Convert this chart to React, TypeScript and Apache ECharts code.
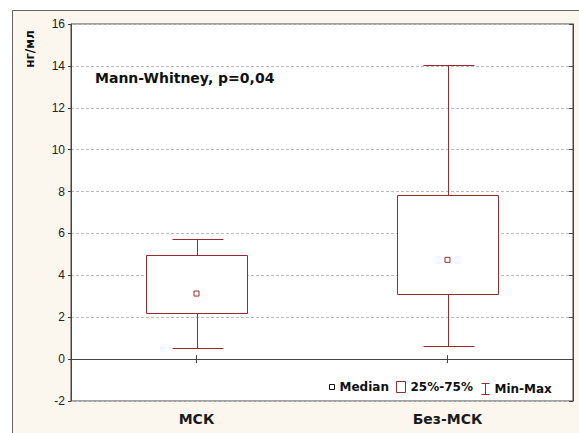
import React, { useEffect, useRef } from "react";
import * as echarts from "echarts";

const categories = ["МСК", "Без-МСК"];
const minValues = [0.52, 0.61];
const q1Values = [2.22, 3.11];
const medianValues = [3.13, 4.74];
const q3Values = [4.95, 7.82];
const maxValues = [5.72, 14.02];
const yMin = -2;
const yMax = 16;
const yInterval = 2;
const annotation = "Mann-Whitney, p=0,04";
const yName = "нг/мл";
const legendNames = ["Median", "25%-75%", "Min-Max"];

const RED = "#9a2a32";
const AXIS = "#444";
const BOLD = '"DejaVu Sans", sans-serif';
const CREAM = "#fcf7ee";

export default function App() {
  const ref = useRef<HTMLDivElement>(null);
  useEffect(() => {
    document.body.style.margin = "0";
    if (!ref.current) return;
    const chart = echarts.init(ref.current, null, { renderer: "svg" });

    const renderBox = (_p: any, api: any) => {
      const i = api.value(0);
      const lo = api.coord([i, api.value(1)]);
      const hi = api.coord([i, api.value(2)]);
      const band = api.size([1, 0])[0];
      const w = band * 0.4;
      const x0 = Math.round(lo[0] - w / 2) + 0.5;
      const x1 = Math.round(lo[0] + w / 2) + 0.5;
      const yTop = Math.round(hi[1]) + 0.5;
      const yBot = Math.round(lo[1]) + 0.5;
      return {
        type: "rect",
        shape: { x: x0, y: yTop, width: x1 - x0, height: yBot - yTop },
        style: { fill: "#fff", stroke: RED, lineWidth: 1 },
      };
    };

    const renderWhisker = (_p: any, api: any) => {
      const i = api.value(0);
      const pMin = api.coord([i, api.value(1)]);
      const pQ1 = api.coord([i, api.value(2)]);
      const pQ3 = api.coord([i, api.value(3)]);
      const pMax = api.coord([i, api.value(4)]);
      const band = api.size([1, 0])[0];
      const cw = band * 0.2;
      const cx = Math.round(pMin[0]) + 0.5;
      const r = (v: number) => Math.round(v) + 0.5;
      const st = { stroke: RED, lineWidth: 1 };
      return {
        type: "group",
        children: [
          { type: "line", shape: { x1: cx, y1: r(pQ3[1]), x2: cx, y2: r(pMax[1]) }, style: st },
          { type: "line", shape: { x1: r(cx - cw / 2), y1: r(pMax[1]), x2: r(cx + cw / 2), y2: r(pMax[1]) }, style: st },
          { type: "line", shape: { x1: cx, y1: r(pQ1[1]), x2: cx, y2: r(pMin[1]) }, style: st },
          { type: "line", shape: { x1: r(cx - cw / 2), y1: r(pMin[1]), x2: r(cx + cw / 2), y2: r(pMin[1]) }, style: st },
        ],
      };
    };

    const legendText = { fontFamily: BOLD, fontWeight: "bold", fontSize: 12, color: "#111" };

    chart.setOption({
      animation: false,
      backgroundColor: CREAM,
      grid: {
        left: 71,
        top: 24,
        right: 6,
        bottom: 32,
        show: true,
        backgroundColor: "#fff",
        borderColor: AXIS,
        borderWidth: 1,
      },
      xAxis: [
        {
          type: "category",
          data: categories,
          position: "bottom",
          axisLine: { show: true, lineStyle: { color: AXIS } },
          axisTick: { show: true, inside: true, alignWithLabel: true, length: 4, lineStyle: { color: AXIS } },
          axisLabel: { fontFamily: BOLD, fontWeight: "bold", fontSize: 14, color: "#1a1a1a", margin: 11 },
          splitLine: { show: false },
        },
        {
          type: "category",
          data: categories,
          position: "top",
          axisLine: { show: true, lineStyle: { color: AXIS } },
          axisTick: { show: true, inside: true, alignWithLabel: true, length: 4, lineStyle: { color: AXIS } },
          axisLabel: { show: false },
          splitLine: { show: false },
        },
      ],
      yAxis: [
        {
          type: "value",
          min: yMin,
          max: yMax,
          interval: yInterval,
          position: "left",
          axisLine: { show: true, lineStyle: { color: AXIS } },
          axisTick: { show: true, inside: false, length: 3, lineStyle: { color: AXIS } },
          axisLabel: { fontFamily: '"Liberation Sans", Arial, sans-serif', fontSize: 12, color: "#222", margin: 6 },
          splitLine: { show: true, lineStyle: { color: "#bdbdbd", type: [3, 2], width: 1 } },
        },
        {
          type: "value",
          min: yMin,
          max: yMax,
          interval: yInterval,
          position: "right",
          axisLine: { show: true, lineStyle: { color: AXIS } },
          axisTick: { show: true, inside: true, length: 4, lineStyle: { color: AXIS } },
          axisLabel: { show: false },
          splitLine: { show: false },
        },
      ],
      legend: [
        {
          data: [{ name: legendNames[0], icon: "rect", itemStyle: { color: "#fff", borderColor: "#111", borderWidth: 1 } }],
          left: 329,
          top: 381,
          padding: 0,
          itemWidth: 5,
          itemHeight: 5,
          selectedMode: false,
          textStyle: legendText,
        },
        {
          data: [{ name: legendNames[1], icon: "rect", itemStyle: { color: "#fff", borderColor: RED, borderWidth: 1 } }],
          left: 396,
          top: 381,
          padding: 0,
          itemWidth: 9,
          itemHeight: 11,
          selectedMode: false,
          textStyle: legendText,
        },
        {
          data: [
            {
              name: legendNames[2],
              icon: "path://M0,0H8M4,0V11M0,11H8",
              itemStyle: { color: "none", borderColor: RED, borderWidth: 1 },
            },
          ],
          left: 479,
          top: 381,
          padding: 0,
          itemWidth: 8,
          itemHeight: 11,
          selectedMode: false,
          textStyle: legendText,
        },
      ],
      graphic: [
        { type: "rect", silent: true, shape: { x: 0, y: 0, width: 12, height: 433 }, style: { fill: "#fff" } },
        { type: "rect", silent: true, shape: { x: 0, y: 0, width: 579, height: 10 }, style: { fill: "#fff" } },
        { type: "line", silent: true, shape: { x1: 12.5, y1: 10, x2: 12.5, y2: 433 }, style: { stroke: "#666", lineWidth: 1 } },
        { type: "line", silent: true, shape: { x1: 12, y1: 10.5, x2: 579, y2: 10.5 }, style: { stroke: "#666", lineWidth: 1 } },
        {
          type: "text",
          x: 95,
          y: 78,
          z: 10,
          style: {
            text: annotation,
            font: `bold 14px ${BOLD}`,
            fill: "#111",
            verticalAlign: "middle",
          },
        },
        {
          type: "text",
          x: 30,
          y: 49,
          z: 10,
          rotation: Math.PI / 2,
          style: {
            text: yName,
            font: `bold 12px ${BOLD}`,
            fill: "#111",
            align: "center",
            verticalAlign: "middle",
          },
        },
      ],
      series: [
        {
          name: legendNames[2],
          type: "custom",
          renderItem: renderWhisker,
          encode: { x: 0, y: [1, 2, 3, 4] },
          data: categories.map((_, i) => [i, minValues[i], q1Values[i], q3Values[i], maxValues[i]]),
          z: 2,
        },
        {
          name: legendNames[1],
          type: "custom",
          renderItem: renderBox,
          encode: { x: 0, y: [1, 2] },
          data: categories.map((_, i) => [i, q1Values[i], q3Values[i]]),
          z: 3,
        },
        {
          name: legendNames[0],
          type: "scatter",
          symbol: "rect",
          symbolSize: 5,
          data: medianValues,
          itemStyle: { color: "#fff", borderColor: RED, borderWidth: 1, opacity: 1 },
          z: 5,
        },
      ],
    });
    return () => chart.dispose();
  }, []);

  return <div ref={ref} style={{ width: 579, height: 433 }} />;
}
